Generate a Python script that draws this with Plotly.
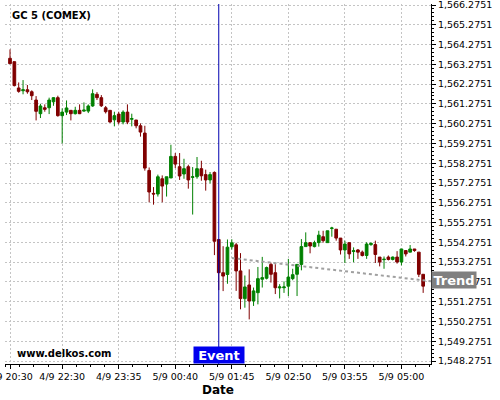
import plotly.graph_objects as go

# ---- data (5-minute bars, category index) ----
bar_index = list(range(96))
opens = [1563.58, 1563.41, 1562.08, 1561.94, 1561.99, 1561.89, 1561.47, 1560.78, 1561.08, 1561.08,
         1561.38, 1561.59, 1560.68, 1560.86, 1560.95, 1560.78, 1560.95, 1560.91, 1560.91, 1561.17,
         1561.76, 1561.59, 1561.08, 1560.95, 1560.47, 1560.76, 1560.36, 1560.86, 1560.50, 1560.46,
         1560.17, 1559.80, 1557.91, 1556.75, 1556.72, 1557.49, 1557.22, 1557.53, 1558.62, 1558.10,
         1557.73, 1558.10, 1557.56, 1557.59, 1558.00, 1557.70, 1557.43, 1557.81, 1554.42, 1552.74,
         1552.65, 1554.05, 1554.15, 1552.83, 1551.43, 1552.12, 1551.31, 1551.73, 1552.41, 1552.46,
         1553.16, 1552.74, 1551.97, 1551.98, 1552.06, 1552.44, 1552.66, 1553.16, 1554.06, 1554.26,
         1554.06, 1554.26, 1554.56, 1554.26, 1554.98, 1554.94, 1554.49, 1553.89, 1554.26, 1553.81,
         1553.89, 1553.78, 1553.61, 1554.16, 1554.16, 1553.53, 1553.40, 1553.53, 1553.41, 1553.53,
         1553.28, 1553.86, 1553.78, 1553.94, 1553.78, 1552.66]
highs = [1564.03, 1563.41, 1562.36, 1562.48, 1562.23, 1561.96, 1561.67, 1561.28, 1561.25, 1561.59,
         1561.62, 1561.69, 1561.05, 1561.45, 1560.95, 1561.13, 1561.25, 1561.35, 1561.25, 1562.01,
         1561.87, 1561.72, 1561.17, 1560.95, 1560.88, 1560.88, 1560.95, 1561.25, 1560.78, 1560.46,
         1560.29, 1560.17, 1558.06, 1557.07, 1557.70, 1557.66, 1557.59, 1559.21, 1558.79, 1558.79,
         1558.50, 1558.20, 1558.08, 1558.59, 1558.40, 1557.95, 1557.83, 1557.86, 1554.42, 1554.08,
         1554.42, 1554.43, 1554.25, 1553.73, 1552.60, 1552.91, 1551.99, 1553.03, 1553.54, 1553.05,
         1553.25, 1553.17, 1552.16, 1552.30, 1553.44, 1552.94, 1553.16, 1554.44, 1554.78, 1554.26,
         1554.36, 1554.86, 1554.86, 1554.86, 1555.06, 1554.94, 1554.49, 1554.36, 1554.26, 1554.02,
         1553.94, 1553.86, 1554.28, 1554.28, 1554.36, 1553.53, 1553.56, 1553.61, 1553.56, 1553.83,
         1553.94, 1553.86, 1554.14, 1553.94, 1553.78, 1552.66]
lows = [1563.29, 1562.16, 1561.84, 1561.76, 1561.79, 1561.47, 1560.44, 1560.56, 1560.88, 1560.76,
        1561.18, 1560.63, 1559.28, 1560.71, 1560.44, 1560.74, 1560.76, 1560.88, 1560.81, 1561.13,
        1561.47, 1561.12, 1560.79, 1560.32, 1560.14, 1560.24, 1560.24, 1560.25, 1560.14, 1560.04,
        1559.62, 1557.90, 1556.30, 1556.18, 1556.59, 1556.30, 1556.59, 1557.53, 1558.03, 1557.43,
        1557.49, 1556.99, 1555.68, 1557.49, 1557.39, 1556.89, 1557.26, 1553.63, 1551.86, 1551.81,
        1552.18, 1553.91, 1551.82, 1550.89, 1550.97, 1550.38, 1551.06, 1551.14, 1551.99, 1552.40,
        1552.24, 1551.66, 1551.44, 1551.72, 1551.56, 1552.36, 1551.56, 1552.86, 1554.06, 1553.72,
        1554.02, 1554.06, 1554.26, 1554.26, 1554.56, 1554.36, 1553.66, 1553.23, 1553.44, 1553.27,
        1553.44, 1553.56, 1553.44, 1554.10, 1553.23, 1553.06, 1552.94, 1553.36, 1553.36, 1553.20,
        1553.11, 1553.56, 1553.78, 1553.80, 1552.52, 1551.72]
closes = [1563.31, 1562.20, 1561.91, 1561.99, 1561.89, 1561.69, 1560.90, 1561.17, 1561.00, 1561.47,
          1561.59, 1560.68, 1560.86, 1561.07, 1560.78, 1560.95, 1560.78, 1560.96, 1561.17, 1561.79,
          1561.59, 1561.18, 1560.88, 1560.36, 1560.68, 1560.36, 1560.86, 1560.36, 1560.53, 1560.17,
          1559.85, 1558.03, 1556.82, 1556.72, 1557.59, 1557.12, 1557.59, 1558.62, 1558.23, 1557.63,
          1558.00, 1557.43, 1557.59, 1558.00, 1557.64, 1557.43, 1557.70, 1554.33, 1552.74, 1552.57,
          1554.03, 1554.25, 1552.83, 1551.43, 1552.02, 1551.31, 1551.82, 1552.44, 1552.49, 1553.00,
          1552.66, 1551.98, 1552.02, 1552.02, 1552.52, 1552.64, 1553.16, 1554.06, 1554.26, 1554.09,
          1554.26, 1554.64, 1554.36, 1554.86, 1555.00, 1554.49, 1553.89, 1554.19, 1553.69, 1553.85,
          1553.78, 1553.61, 1554.19, 1554.22, 1553.66, 1553.28, 1553.42, 1553.41, 1553.53, 1553.28,
          1553.94, 1553.69, 1553.94, 1553.86, 1552.66, 1552.06]

tick_index = [0, 12, 25, 38, 51, 64, 77, 90]
tick_labels = ["4/9 20:30", "4/9 22:30", "4/9 23:35", "5/9 00:40",
               "5/9 01:45", "5/9 02:50", "5/9 03:55", "5/9 05:00"]
y_base = 1548.2751
y_tick_count = 19

event_index = 48
trend_x = [51, 96.8]
trend_y = [1553.48, 1552.31]
trend_label_value = 1552.38

UP = "#008000"
DOWN = "#800000"
GRID = "#c4c4c4"
FONT = "DejaVu Sans"

fig = go.Figure()

fig.add_trace(go.Scatter(
    x=trend_x, y=trend_y, mode="lines",
    line=dict(color="#a0a0a0", width=2, dash="dot"),
    hoverinfo="skip", showlegend=False,
))

fig.add_trace(go.Candlestick(
    x=bar_index, open=opens, high=highs, low=lows, close=closes,
    increasing=dict(line=dict(color=UP, width=1), fillcolor=UP),
    decreasing=dict(line=dict(color=DOWN, width=1), fillcolor=DOWN),
    whiskerwidth=0, showlegend=False,
))

fig.add_shape(type="line", xref="x", yref="paper", x0=event_index, x1=event_index,
              y0=0, y1=1, line=dict(color="#0000b0", width=1), layer="above")

y_ticks = [y_base + k for k in range(y_tick_count)]
y_labels = [f"{v:,.4f}" for v in y_ticks]

fig.update_layout(
    width=500, height=400,
    margin=dict(l=5, r=69, t=4, b=36),
    paper_bgcolor="white", plot_bgcolor="white",
    font=dict(family=FONT, size=9.5, color="black"),
    boxgap=0.12,
    showlegend=False,
    xaxis=dict(
        range=[-1.15, 96.8], rangeslider=dict(visible=False), automargin=False,
        tickmode="array", tickvals=tick_index, ticktext=tick_labels,
        ticklabeloverflow="allow",
        showgrid=True, gridcolor=GRID, griddash="2px,2px", gridwidth=1,
        showline=True, linecolor="black", linewidth=1,
        ticks="outside", ticklen=4, tickcolor="black",
        minor=dict(tick0=12, dtick=3.25, ticks="outside", ticklen=2, tickcolor="black", showgrid=False),
        zeroline=False,
        title=dict(text="<b>Date</b>", font=dict(size=12, family=FONT), standoff=4),
    ),
    yaxis=dict(
        side="right", range=[1548.124, 1566.326], automargin=False,
        tickmode="array", tickvals=y_ticks, ticktext=y_labels,
        ticklabeloverflow="allow",
        showgrid=True, gridcolor=GRID, griddash="2px,2px", gridwidth=1,
        showline=True, linecolor="black", linewidth=1,
        ticks="outside", ticklen=4, tickcolor="black",
        minor=dict(tick0=y_base, dtick=0.2, ticks="outside", ticklen=2, tickcolor="black", showgrid=False),
        zeroline=False,
    ),
    annotations=[
        dict(text="<b>GC 5 (COMEX)</b>", xref="paper", yref="paper", x=0, y=1,
             xanchor="left", yanchor="middle", xshift=5, yshift=-11,
             showarrow=False, font=dict(size=10, family=FONT, color="black")),
        dict(text="<b>www.delkos.com</b>", xref="paper", yref="paper", x=0, y=0,
             xanchor="left", yanchor="middle", xshift=10, yshift=11,
             showarrow=False, font=dict(size=10, family=FONT, color="black")),
        dict(text="<b>Event</b>", xref="x", yref="paper", x=event_index, y=0,
             xanchor="center", yanchor="bottom", showarrow=False,
             bgcolor="#0000ee", width=50, height=16, borderpad=0,
             font=dict(size=13, family=FONT, color="white")),
        dict(text="<b>Trend</b>", xref="paper", yref="y", x=1, y=trend_label_value,
             xanchor="left", yanchor="middle", showarrow=False,
             bgcolor="#808080", width=44, height=16, borderpad=0,
             font=dict(size=13, family=FONT, color="white")),
    ],
)

fig.write_html("out.html", config={"displayModeBar": False},
               post_script="document.body.style.margin='0';")
